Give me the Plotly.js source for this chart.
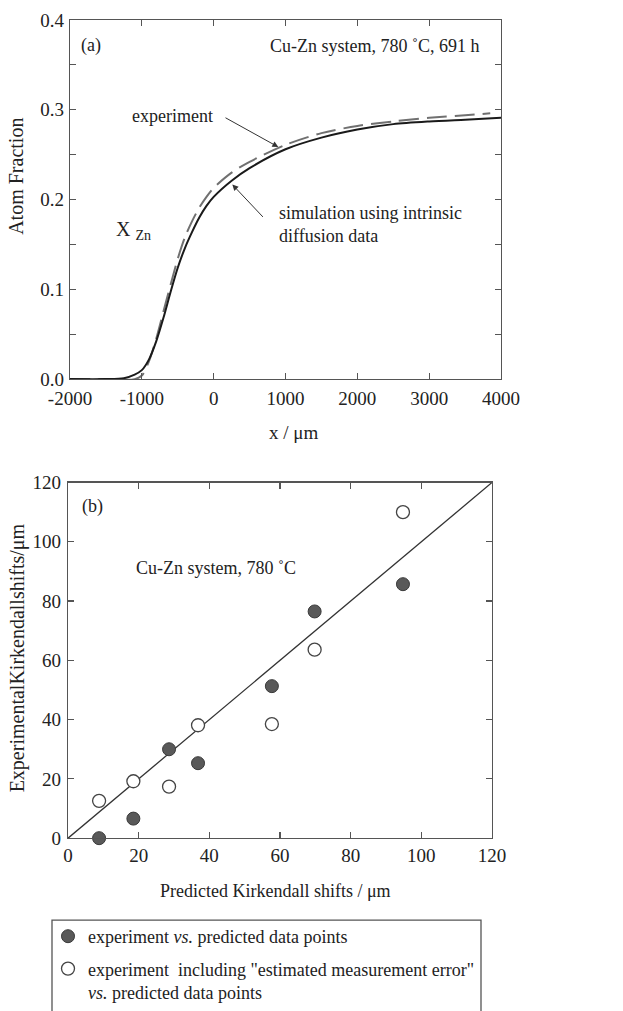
<!DOCTYPE html>
<html>
<head>
<meta charset="utf-8">
<script src="https://cdn.plot.ly/plotly-3.0.1.min.js"></script>
<style>html,body{margin:0;padding:0;background:#fff;}#chart{width:623px;height:1011px;}</style>
</head>
<body>
<div id="chart"></div>
<script>
// ---- Panel (a): concentration profiles ----
const xSim = [-2000, -1500, -1250, -1100, -1000, -900, -800, -700, -600, -500, -400, -300, -200, -100, 0, 250, 500, 1000, 1500, 2000, 2500, 3000, 3500, 4000];
const ySim = [0, 0, 0.001, 0.005, 0.010, 0.022, 0.042, 0.068, 0.097, 0.124, 0.146, 0.164, 0.180, 0.193, 0.203, 0.221, 0.235, 0.256, 0.269, 0.278, 0.284, 0.287, 0.289, 0.291];
const xExp = [-2000, -1500, -1100, -1000, -900, -800, -700, -600, -500, -400, -300, -200, -100, 0, 250, 500, 1000, 1500, 2000, 2500, 3000, 3500, 3850];
const yExp = [0, 0, 0, 0.004, 0.020, 0.045, 0.075, 0.105, 0.134, 0.158, 0.176, 0.191, 0.203, 0.213, 0.230, 0.242, 0.261, 0.274, 0.282, 0.287, 0.291, 0.294, 0.296];
const xTicksA = [-2000, -1000, 0, 1000, 2000, 3000, 4000];
const xTickTextA = ['-2000', '-1000', '0', '1000', '2000', '3000', '4000'];
const yTicksA = [0, 0.05, 0.1, 0.15, 0.2, 0.25, 0.3, 0.35, 0.4];
const yTickTextA = ['0.0', '', '0.1', '', '0.2', '', '0.3', '', '0.4'];

// ---- Panel (b): Kirkendall shifts ----
const predicted = [8.8, 18.5, 28.6, 36.8, 57.7, 69.8, 94.8];
const expShift = [0, 6.6, 30, 25.3, 51.3, 76.5, 85.7];
const expShiftErr = [12.6, 19.2, 17.4, 38.1, 38.5, 63.6, 110];
const diagX = [0, 120];
const diagY = [0, 120];
const ticksB = [0, 20, 40, 60, 80, 100, 120];

const W = 623, H = 1011;
const px = v => v / W;
const py = v => 1 - v / H;
const serif = 'Liberation Serif, Times New Roman, serif';
const txt = '#222';
const axc = '#555';

const traces = [
  {x: xExp, y: yExp, xaxis: 'x', yaxis: 'y', mode: 'lines', showlegend: false,
   line: {color: '#707070', width: 2, dash: '20px,8px', shape: 'spline', smoothing: 0.8}},
  {x: xSim, y: ySim, xaxis: 'x', yaxis: 'y', mode: 'lines', showlegend: false,
   line: {color: '#1a1a1a', width: 2, shape: 'spline', smoothing: 0.8}},
  {x: diagX, y: diagY, xaxis: 'x2', yaxis: 'y2', mode: 'lines', showlegend: false,
   line: {color: '#333', width: 1.3}},
  {x: predicted, y: expShift, xaxis: 'x2', yaxis: 'y2', mode: 'markers', cliponaxis: false,
   name: 'experiment <i>vs.</i> predicted data points', legendgroup: 'a',
   marker: {size: 13, color: '#595959', line: {color: '#3a3a3a', width: 1}}},
  {x: predicted, y: expShiftErr, xaxis: 'x2', yaxis: 'y2', mode: 'markers', cliponaxis: false,
   name: 'experiment  including "estimated measurement error"<br><i>vs.</i> predicted data points', legendgroup: 'b',
   marker: {size: 13, color: '#ffffff', line: {color: '#444', width: 1.3}}}
];

const axisCommon = {
  showline: true, mirror: 'ticks', linecolor: axc, linewidth: 1.3,
  ticks: 'inside', ticklen: 6, tickcolor: axc, tickwidth: 1.2,
  showgrid: false, zeroline: false,
  tickfont: {family: serif, size: 19, color: txt}
};

const layout = {
  width: W, height: H,
  margin: {l: 0, r: 0, t: 0, b: 0},
  paper_bgcolor: '#fff', plot_bgcolor: '#fff',
  font: {family: serif, color: txt, size: 18},
  showlegend: true,
  legend: {x: px(48), y: py(919), xanchor: 'left', yanchor: 'top', borderwidth: 0,
           bgcolor: 'rgba(0,0,0,0)', font: {family: serif, size: 18, color: txt},
           valign: 'top', tracegroupgap: 6},
  xaxis: Object.assign({}, axisCommon, {domain: [px(70), px(501)], range: [-2000, 4000], anchor: 'y',
           tickmode: 'array', tickvals: xTicksA, ticktext: xTickTextA, ticklabelstandoff: 2}),
  yaxis: Object.assign({}, axisCommon, {domain: [py(379.5), py(20)], range: [0, 0.4], anchor: 'x',
           tickmode: 'array', tickvals: yTicksA, ticktext: yTickTextA, ticklabelstandoff: 1}),
  xaxis2: Object.assign({}, axisCommon, {domain: [px(68), px(492)], range: [0, 120], anchor: 'y2',
           tickmode: 'array', tickvals: ticksB, ticklabelstandoff: 0}),
  yaxis2: Object.assign({}, axisCommon, {domain: [py(839), py(483)], range: [0, 120], anchor: 'x2',
           tickmode: 'array', tickvals: ticksB, ticklabelstandoff: 2}),
  shapes: [
    {type: 'rect', xref: 'paper', yref: 'paper', x0: px(52), x1: px(481), y0: py(921), y1: -0.05,
     line: {color: axc, width: 1.3}, fillcolor: 'rgba(0,0,0,0)'}
  ],
  annotations: [
    {xref: 'x', yref: 'y', x: -1870, y: 0.372, xanchor: 'left', yanchor: 'middle', text: '(a)', showarrow: false},
    {xref: 'x', yref: 'y', x: 3740, y: 0.3715, xanchor: 'right', yanchor: 'middle', text: 'Cu-Zn system, 780 ˚C, 691 h', showarrow: false},
    {xref: 'x', yref: 'y', x: -1170, y: 0.293, xanchor: 'left', yanchor: 'middle', text: 'experiment', showarrow: false},
    {xref: 'x', yref: 'y', x: 877, y: 0.172, xanchor: 'left', yanchor: 'middle', align: 'left',
     text: 'simulation using intrinsic<br>diffusion data', showarrow: false},
    {xref: 'x', yref: 'y', x: -1385, y: 0.165, xanchor: 'left', yanchor: 'middle', text: 'X <sub>Zn</sub>', showarrow: false, font: {size: 20}},
    {xref: 'x', yref: 'y', x: 900, y: 0.2585, axref: 'x', ayref: 'y', ax: 144, ay: 0.292, text: '',
     showarrow: true, arrowhead: 2, arrowsize: 1.2, arrowwidth: 1, arrowcolor: '#333'},
    {xref: 'x', yref: 'y', x: 260, y: 0.2167, axref: 'x', ayref: 'y', ax: 705, ay: 0.179, text: '',
     showarrow: true, arrowhead: 2, arrowsize: 1.2, arrowwidth: 1, arrowcolor: '#333'},
    {xref: 'paper', yref: 'paper', x: px(16), y: py(177), xanchor: 'center', yanchor: 'middle',
     text: 'Atom Fraction', textangle: -90, showarrow: false, font: {size: 20}},
    {xref: 'paper', yref: 'paper', x: px(293), y: py(433), xanchor: 'center', yanchor: 'middle',
     text: 'x / μm', showarrow: false, font: {size: 19}},
    {xref: 'x2', yref: 'y2', x: 3.5, y: 112, xanchor: 'left', yanchor: 'middle', text: '(b)', showarrow: false},
    {xref: 'x2', yref: 'y2', x: 18.8, y: 91, xanchor: 'left', yanchor: 'middle', text: 'Cu-Zn system, 780 ˚C', showarrow: false},
    {xref: 'paper', yref: 'paper', x: px(17), y: py(659), xanchor: 'center', yanchor: 'middle',
     text: 'ExperimentalKirkendallshifts/μm', textangle: -90, showarrow: false, font: {size: 20}},
    {xref: 'paper', yref: 'paper', x: px(275), y: py(892), xanchor: 'center', yanchor: 'middle',
     text: 'Predicted Kirkendall shifts / μm', showarrow: false, font: {size: 18}}
  ]
};

Plotly.newPlot('chart', traces, layout, {staticPlot: true, displayModeBar: false});
</script>
</body>
</html>
